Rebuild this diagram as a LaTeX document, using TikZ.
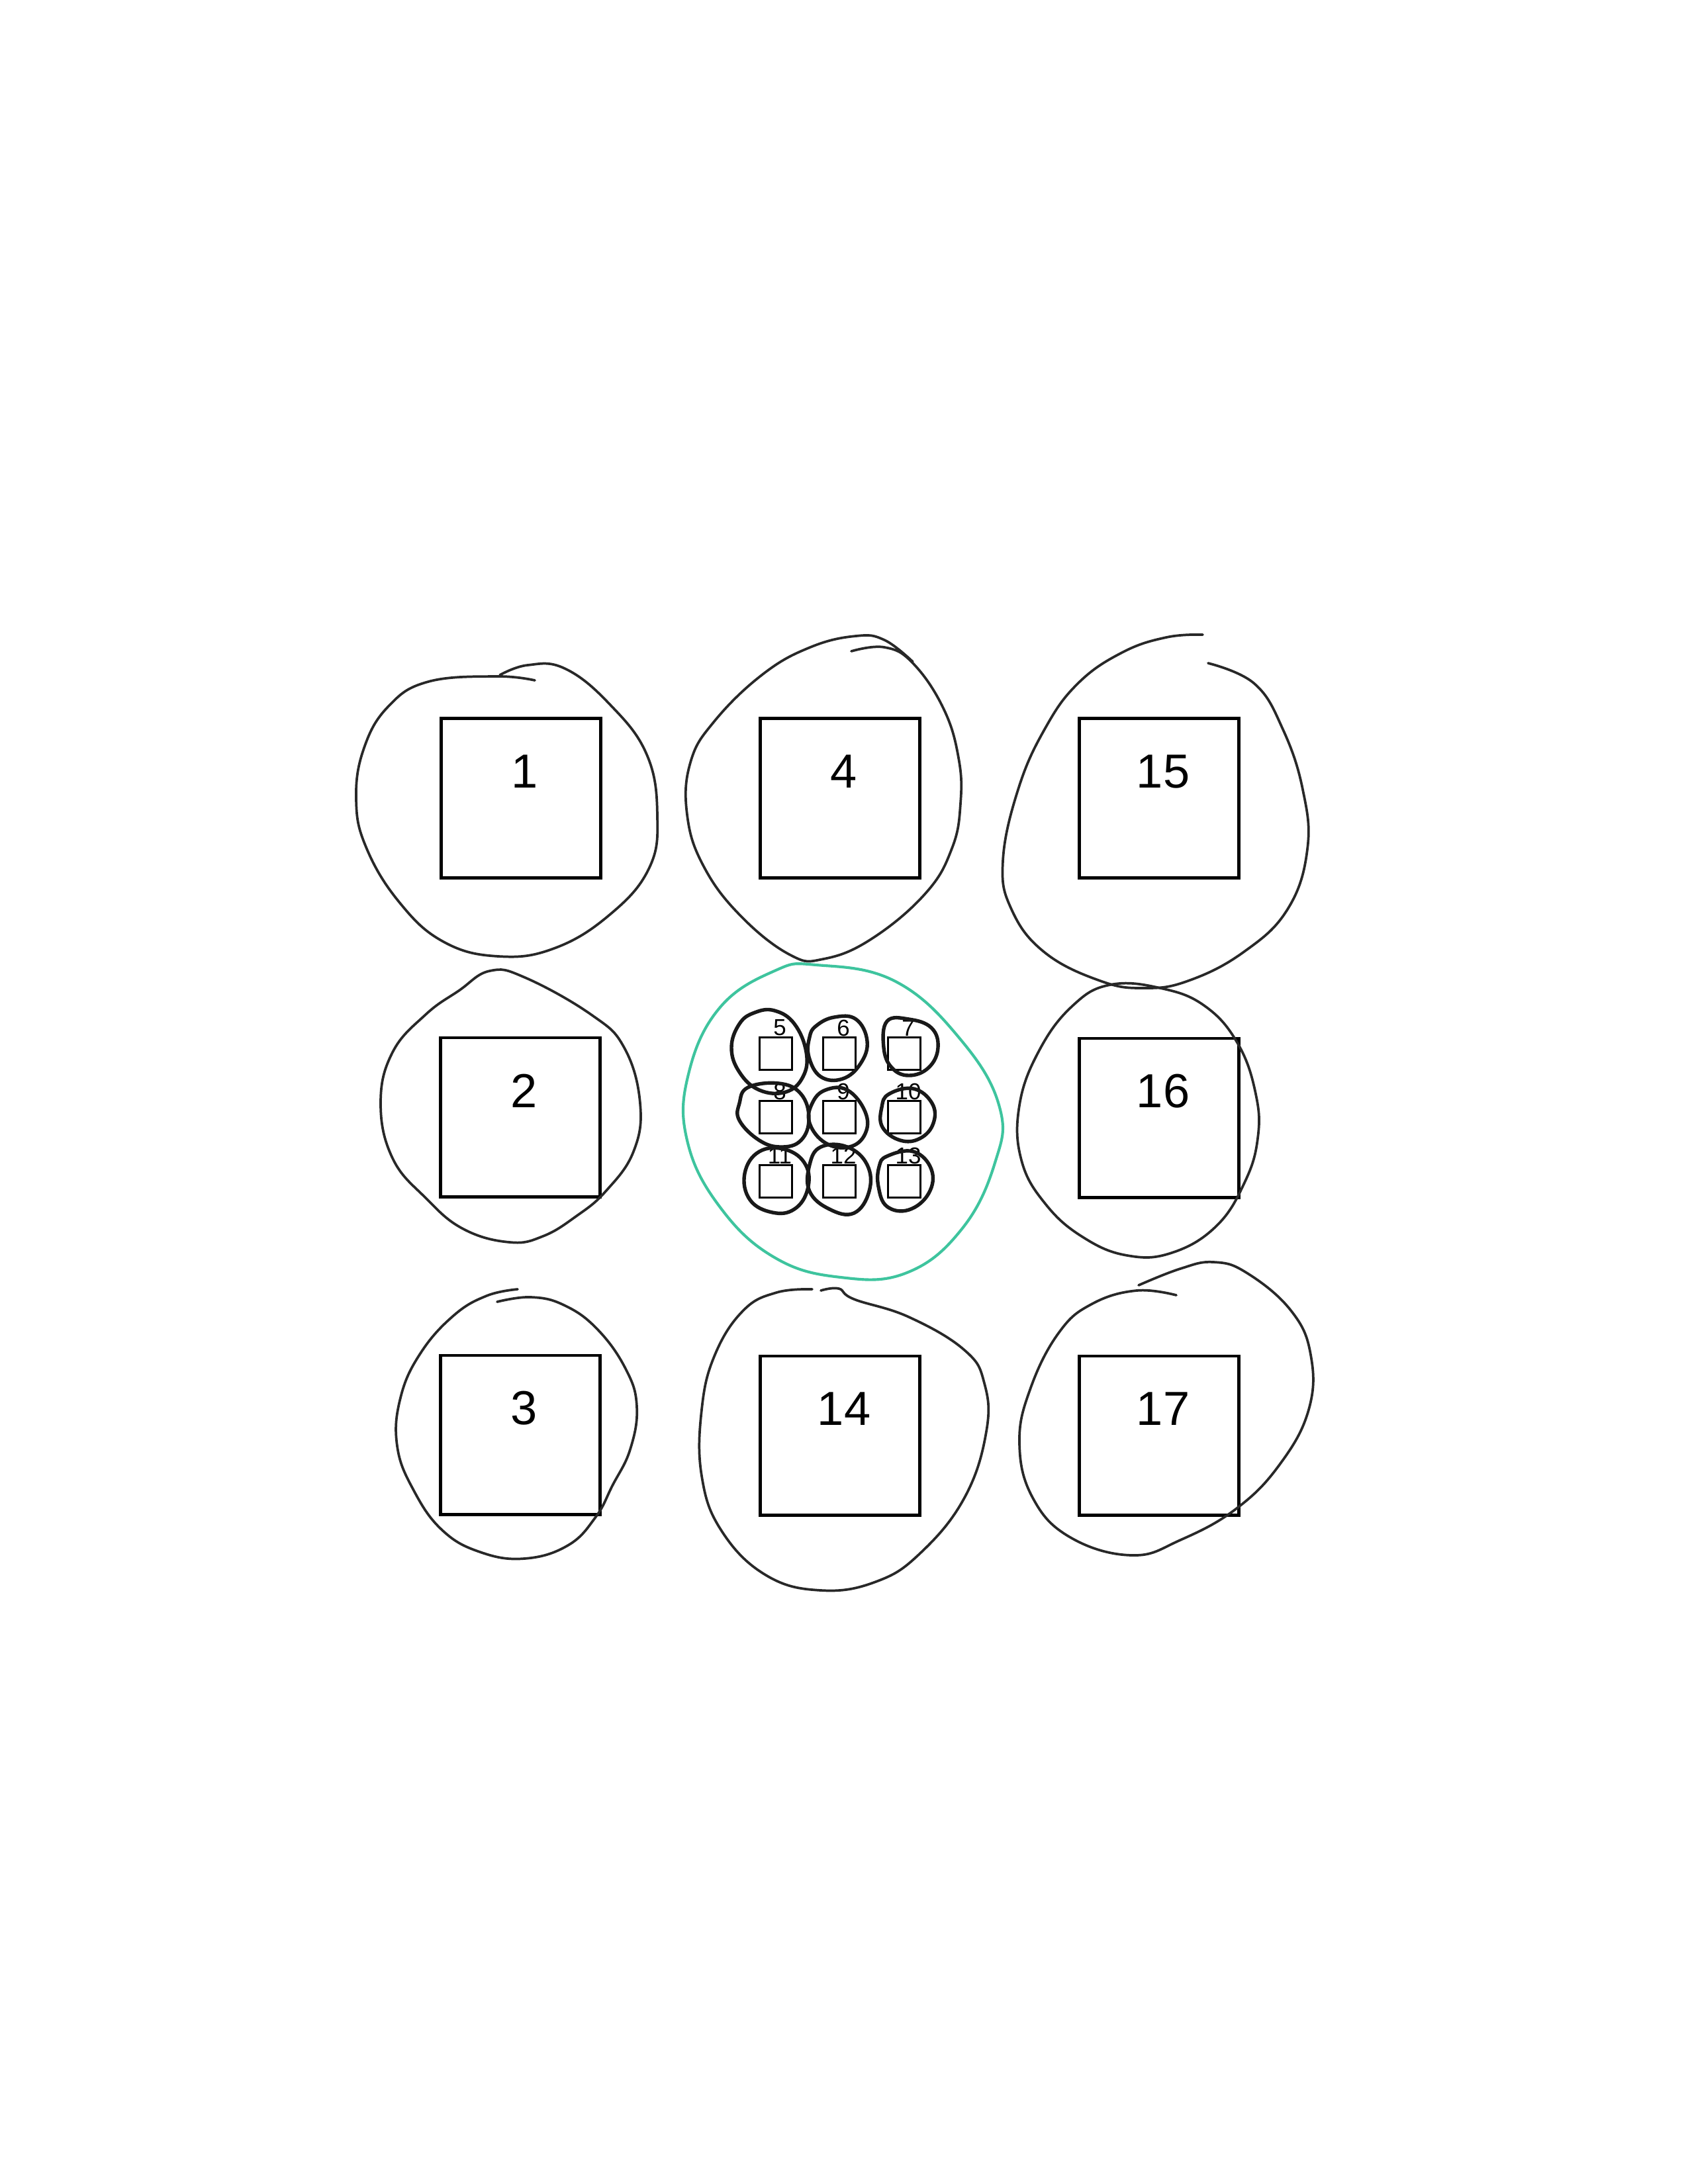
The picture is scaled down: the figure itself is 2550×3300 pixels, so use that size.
\documentclass[tikz,border=0pt]{standalone}
\usepackage{fontspec}
\setmainfont{Liberation Sans}
\usepackage{xcolor}
\definecolor{ringgreen}{RGB}{62,196,158}
\definecolor{pencil}{RGB}{40,40,40}

\begin{document}
\begin{tikzpicture}[x=0.008467cm,y=-0.008467cm,
  bigbox/.style={draw,line width=1pt,minimum size=2.04cm,inner sep=0pt},
  smallbox/.style={draw,line width=0.8pt,minimum size=0.41cm,inner sep=0pt},
  bignum/.style={inner sep=0pt,font=\fontsize{17.4}{20}\selectfont},
  smallnum/.style={inner sep=0pt,font=\fontsize{8.4}{10}\selectfont},
  loopline/.style={draw=pencil,line width=0.9pt,line cap=round,line join=round},
  tightloop/.style={loopline,line width=1.3pt,draw=black!90},
  ring/.style={draw=ringgreen,line width=1pt}]
\useasboundingbox (0,0) rectangle (2550,3300);

% big boxes
\foreach \n/\x/\y in {1/787/1206,4/1269/1206,15/1751/1206,2/786/1688,16/1751/1689,3/786/2168,14/1269/2169,17/1751/2169}{
  \node[bigbox] (sq\n) at (\x,\y) {};
  \node[bignum] (lbl\n) at (\x+6,\y-40) {\n};
}

% small boxes in the middle
\foreach \n/\x/\y in {5/1172/1592,6/1268/1592,7/1366/1592,8/1172/1688,9/1268/1688,10/1366/1688,11/1172/1785,12/1268/1785,13/1366/1785}{
  \node[smallbox] (sb\n) at (\x,\y) {};
  \node[smallnum] (sl\n) at (\x+6,\y-39) {\n};
}

% hand drawn loops round the big boxes
\draw[loopline] plot[smooth,tension=0.7] coordinates {(808,1028) (750,1022) (647,1030) (587,1067) (550,1130) (538,1207) (553,1280) (603,1363) (670,1423) (753,1445) (837,1433) (920,1383) (980,1313) (993,1233) (977,1140) (920,1063) (853,1010) (797,1005) (755,1020)};
\draw[loopline] plot[smooth,tension=0.7] coordinates {(1286,984) (1336,978) (1379,1002) (1425,1070) (1448,1145) (1451,1214) (1438,1282) (1398,1350) (1316,1419) (1244,1449) (1194,1443) (1119,1384) (1063,1309) (1038,1231) (1043,1152) (1079,1090) (1152,1019) (1224,978) (1293,961) (1336,967) (1379,1000)};
\draw[loopline] plot[smooth,tension=0.7] coordinates {(1817,959) (1762,963) (1695,986) (1628,1033) (1578,1102) (1538,1193) (1515,1301) (1528,1374) (1578,1439) (1662,1482) (1728,1493) (1795,1482) (1878,1439) (1945,1374) (1975,1283) (1968,1193) (1938,1102) (1895,1033) (1825,1002)};
\draw[loopline] plot[smooth cycle,tension=0.7] coordinates {(740,1467) (793,1477) (893,1533) (943,1583) (967,1667) (957,1740) (915,1800) (870,1838) (820,1868) (770,1877) (700,1857) (643,1810) (593,1750) (575,1667) (593,1590) (643,1533) (693,1497)};
\draw[loopline] plot[smooth cycle,tension=0.7] coordinates {(1677,1488) (1753,1493) (1820,1520) (1870,1577) (1897,1653) (1900,1720) (1880,1787) (1837,1853) (1770,1893) (1703,1897) (1637,1870) (1580,1820) (1543,1753) (1540,1670) (1570,1587) (1620,1520)};
\draw[loopline] plot[smooth,tension=0.7] coordinates {(751,1967) (802,1960) (852,1972) (902,2008) (945,2068) (962,2125) (952,2190) (925,2245) (900,2292) (858,2335) (792,2355) (725,2345) (668,2312) (625,2252) (600,2185) (605,2112) (635,2045) (685,1988) (735,1958) (782,1948)};
\draw[loopline] plot[smooth,tension=0.7] coordinates {(1227,1948) (1173,1953) (1123,1980) (1080,2047) (1060,2130) (1060,2230) (1090,2313) (1157,2380) (1240,2403) (1323,2390) (1390,2347) (1457,2263) (1490,2163) (1487,2090) (1457,2040) (1373,1990) (1290,1963) (1267,1947) (1240,1950)};
\draw[loopline] plot[smooth,tension=0.7] coordinates {(1777,1957) (1717,1950) (1650,1970) (1600,2013) (1557,2097) (1540,2180) (1560,2263) (1617,2323) (1710,2350) (1783,2327) (1867,2280) (1933,2213) (1977,2130) (1980,2047) (1950,1980) (1883,1923) (1833,1907) (1783,1917) (1720,1942)};

% green ring round the middle group
\draw[ring] plot[smooth cycle,tension=0.7] coordinates {(1233,1458) (1353,1483) (1453,1573) (1510,1673) (1503,1757) (1453,1857) (1370,1923) (1270,1930) (1170,1900) (1087,1823) (1038,1723) (1040,1623) (1087,1523) (1170,1467)};

% small loops
\draw[tightloop] plot[smooth cycle,tension=0.7] coordinates {(1140,1530) (1170,1527) (1200,1547) (1218,1590) (1213,1627) (1187,1650) (1147,1647) (1117,1620) (1105,1583) (1117,1547)};
\draw[tightloop] plot[smooth cycle,tension=0.7] coordinates {(1233,1550) (1260,1537) (1293,1540) (1310,1573) (1300,1607) (1273,1630) (1240,1627) (1222,1597) (1223,1567)};
\draw[tightloop] plot[smooth cycle,tension=0.7] coordinates {(1340,1543) (1373,1540) (1407,1553) (1417,1583) (1403,1613) (1373,1625) (1347,1613) (1335,1583)};
\draw[tightloop] plot[smooth cycle,tension=0.7] coordinates {(1130,1643) (1177,1637) (1210,1653) (1222,1690) (1210,1723) (1180,1733) (1147,1723) (1117,1693) (1117,1667)};
\draw[tightloop] plot[smooth cycle,tension=0.7] coordinates {(1247,1647) (1280,1647) (1307,1680) (1307,1713) (1283,1733) (1247,1727) (1223,1697) (1227,1667)};
\draw[tightloop] plot[smooth cycle,tension=0.7] coordinates {(1343,1653) (1380,1645) (1408,1667) (1410,1697) (1390,1720) (1360,1723) (1333,1703) (1332,1673)};
\draw[tightloop] plot[smooth cycle,tension=0.7] coordinates {(1147,1740) (1187,1737) (1217,1760) (1220,1797) (1200,1827) (1167,1832) (1133,1813) (1125,1773)};
\draw[tightloop] plot[smooth cycle,tension=0.7] coordinates {(1240,1733) (1280,1733) (1310,1760) (1313,1800) (1290,1833) (1253,1827) (1223,1800) (1223,1760)};
\draw[tightloop] plot[smooth cycle,tension=0.7] coordinates {(1340,1747) (1380,1740) (1407,1767) (1403,1803) (1373,1828) (1340,1823) (1327,1793) (1328,1763)};
\end{tikzpicture}
\end{document}
